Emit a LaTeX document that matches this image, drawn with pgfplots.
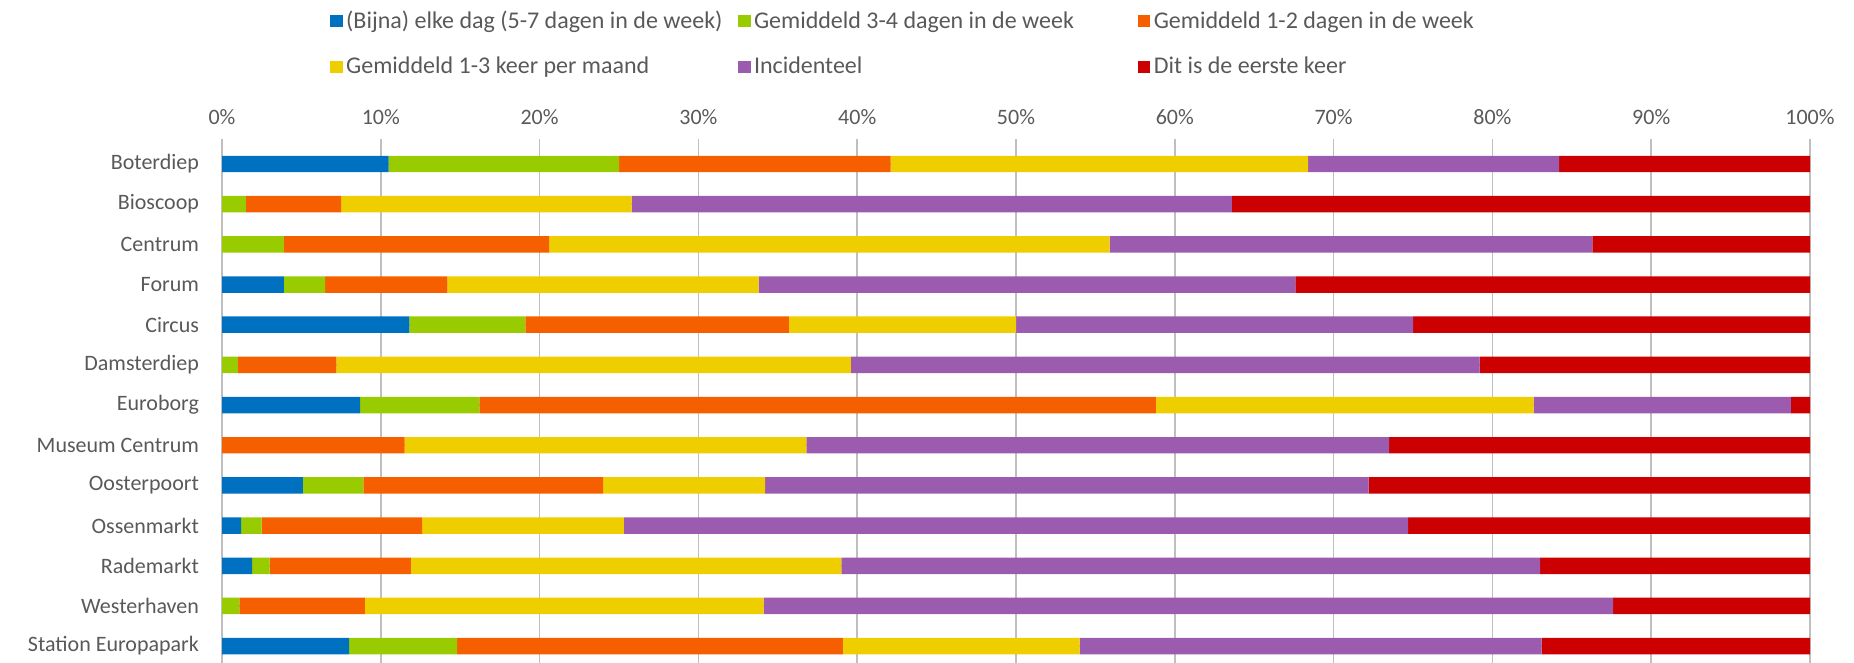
\documentclass[border=0pt]{standalone}
\usepackage{fontspec}
\setmainfont{Carlito}
\usepackage{pgfplots}
\usepackage{pgfplotstable}
\pgfplotsset{compat=1.18}
\definecolor{cblue}{HTML}{0070C0}
\definecolor{cgreen}{HTML}{99CC00}
\definecolor{corange}{HTML}{F65F00}
\definecolor{cyellow}{HTML}{EFCE00}
\definecolor{cpurple}{HTML}{9B5BAF}
\definecolor{cred}{HTML}{CC0000}
\definecolor{txt}{HTML}{595959}
\definecolor{grid}{HTML}{D9D9D9}

% y: 13 = Boterdiep (top) ... 1 = Station Europapark (bottom)
\pgfplotstableread{
y  a    b    c    d    e    f
13 10.5 14.5 17.1 26.3 15.8 15.8
12 0    1.5  6.0  18.3 37.8 36.4
11 0    3.9  16.7 35.3 30.4 13.7
10 3.9  2.6  7.7  19.6 33.8 32.4
9  11.8 7.3  16.6 14.3 25.0 25.0
8  0    1.0  6.2  32.4 39.6 20.8
7  8.7  7.5  42.6 23.8 16.2 1.2
6  0    0    11.5 25.3 36.7 26.5
5  5.1  3.8  15.1 10.2 38.0 27.8
4  1.2  1.3  10.1 12.7 49.4 25.3
3  1.9  1.1  8.9  27.1 44.0 17.0
2  0    1.1  7.9  25.1 53.5 12.4
1  8.0  6.8  24.3 14.9 29.1 16.9
}\data

\newcommand{\lgda}[1]{\makebox[194pt][l]{#1}}
\newcommand{\lgdb}[1]{\makebox[190pt][l]{#1}}

\begin{document}
\begin{tikzpicture}
\useasboundingbox (0,0) rectangle (927pt,-331.5pt);
\begin{axis}[
at={(111pt,-69.75pt)},anchor=north west,
scale only axis,width=794pt,height=261.75pt,
xbar stacked,bar width=0.41,
xmin=0,xmax=100,ymin=0.58,ymax=13.61,
xtick={0,10,...,100},
xticklabels={0\%,10\%,20\%,30\%,40\%,50\%,60\%,70\%,80\%,90\%,100\%},
xticklabel pos=upper,
ytick={1,...,13},
yticklabels={Station Europapark,Westerhaven,Rademarkt,Ossenmarkt,Oosterpoort,Museum Centrum,Euroborg,Damsterdiep,Circus,Forum,Centrum,Bioscoop,Boterdiep},
major tick length=0pt,tick style={draw=none},
axis line style={draw=none},
xmajorgrids=true,grid style={grid,line width=0.8pt},
tick label style={font=\fontsize{11}{13}\selectfont,text=txt},
yticklabel style={xshift=-8pt},
xticklabel style={yshift=3.8pt},
legend columns=3,
legend cell align=left,
legend style={at={(0.0677,1.254)},anchor=north west,draw=none,fill=none,inner sep=0pt,
  font=\fontsize{12}{14}\selectfont,text=txt,row sep=8.7pt,column sep=0pt,
  nodes={inner xsep=1.75pt}},
legend image code/.code={\fill[#1] (0pt,-3.1pt) rectangle (6.4pt,3.1pt);},
]
\addplot[fill=cblue,draw=none] table[x=a,y=y]{\data};
\addlegendentry{\lgda{(Bijna) elke dag (5-7 dagen in de week)}}
\addplot[fill=cgreen,draw=none] table[x=b,y=y]{\data};
\addlegendentry{\lgdb{Gemiddeld 3-4 dagen in de week}}
\addplot[fill=corange,draw=none] table[x=c,y=y]{\data};
\addlegendentry{Gemiddeld 1-2 dagen in de week}
\addplot[fill=cyellow,draw=none] table[x=d,y=y]{\data};
\addlegendentry{\lgda{Gemiddeld 1-3 keer per maand}}
\addplot[fill=cpurple,draw=none] table[x=e,y=y]{\data};
\addlegendentry{\lgdb{Incidenteel}}
\addplot[fill=cred,draw=none] table[x=f,y=y]{\data};
\addlegendentry{Dit is de eerste keer}
\end{axis}
\end{tikzpicture}
\end{document}
